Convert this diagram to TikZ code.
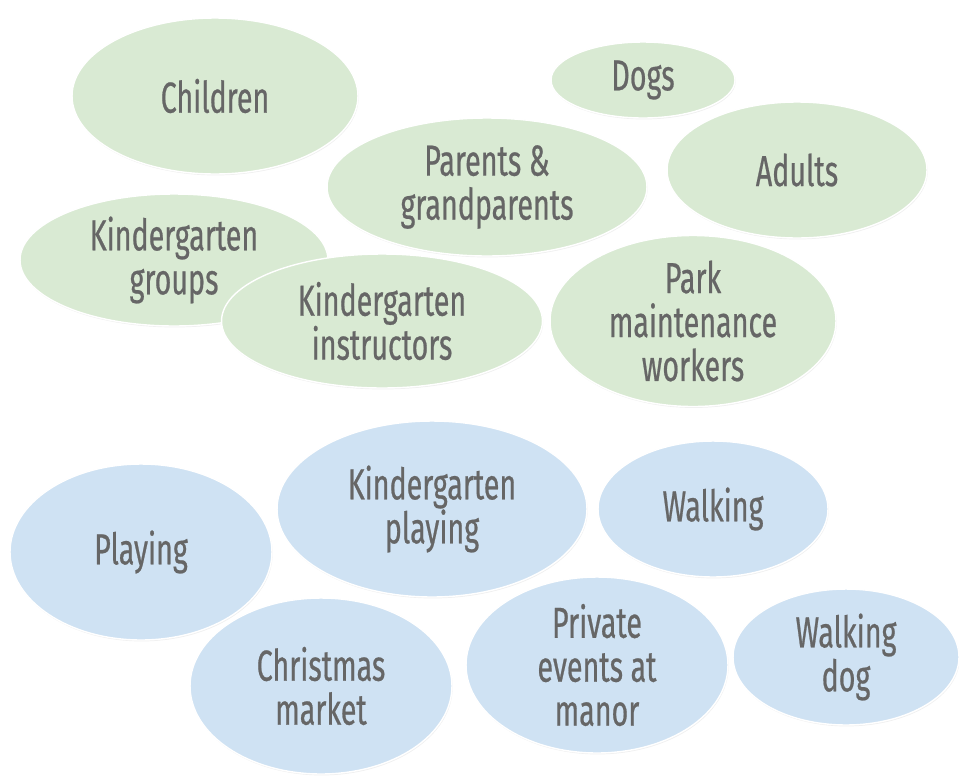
\documentclass[tikz,border=0pt]{standalone}
\usepackage{fontspec}
\setmainfont[FakeStretch=0.66, FakeBold=0.5]{Fira Sans}
\usepackage{tikz}
\usetikzlibrary{shapes.geometric,shadows}

\definecolor{sagegreen}{HTML}{D9EAD3}
\definecolor{paleblue}{HTML}{CFE2F3}
\definecolor{inkgrey}{HTML}{666666}

\tikzset{
	bubble/.style={ellipse, draw=white, line width=0.8pt, inner sep=0pt, text=inkgrey, align=center,
		font=\fontsize{24.7}{25}\selectfont,
		drop shadow={opacity=0.12, shadow xshift=0.4pt, shadow yshift=-0.8pt}},
	who/.style={bubble, fill=sagegreen},
	what/.style={bubble, fill=paleblue}
}

\begin{document}
\begin{tikzpicture}[x=0.02cm, y=-0.02cm]
				\useasboundingbox (0,0) rectangle (959,775);
				% who uses the park
				\node[who, minimum width=5.72cm, minimum height=3.12cm] (children) at (215,96) {Children};
				\node[who, minimum width=3.68cm, minimum height=1.52cm] (dogs) at (643,80) {Dogs};
				\node[who, minimum width=5.2cm, minimum height=2.72cm] (adults) at (797,170) {Adults};
				\node[who, minimum width=6.4cm, minimum height=2.76cm] (parents) at (487,187) {Parents \&\\grandparents};
				\node[who, minimum width=6.16cm, minimum height=2.64cm] (kgroups) at (174,260) {Kindergarten\\groups};
				\node[who, minimum width=6.42cm, minimum height=2.68cm] (kinstructors) at (382,321) {Kindergarten\\instructors};
				\node[who, minimum width=5.72cm, minimum height=2.56cm] (workers) at (693,321) {Park\\maintenance\\workers};
				% what they do there
				\node[what, minimum width=5.24cm, minimum height=3.52cm] (playing) at (141,552) {Playing};
				\node[what, minimum width=6.2cm, minimum height=3.52cm] (kplaying) at (432,509) {Kindergarten\\playing};
				\node[what, minimum width=4.6cm, minimum height=2.72cm] (walking) at (713,509) {Walking};
				\node[what, minimum width=5.24cm, minimum height=3.52cm] (market) at (321,686) {Christmas\\market};
				\node[what, minimum width=5.24cm, minimum height=3.52cm] (events) at (597,665) {Private\\events at\\manor};
				\node[what, minimum width=4.52cm, minimum height=2.72cm] (walkdog) at (846,657) {Walking\\dog};
			\end{tikzpicture}
\end{document}
